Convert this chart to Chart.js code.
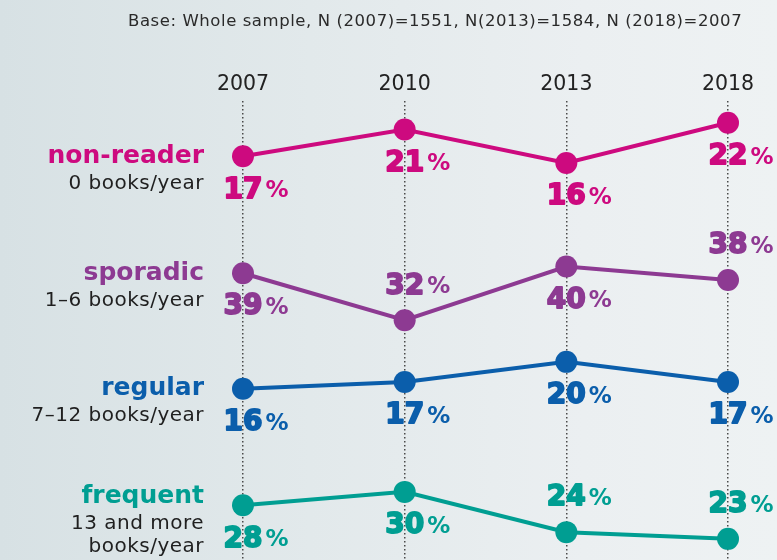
<!DOCTYPE html>
<html>
<head>
<meta charset="utf-8">
<script src="https://cdn.jsdelivr.net/npm/chart.js@4"></script>
<style>
  html, body { margin: 0; padding: 0; }
  body { width: 777px; height: 560px; overflow: hidden;
         background: linear-gradient(90deg, #d7e1e4 0%, #e2e9eb 40%, #ebeff1 75%, #eef2f3 100%); }
</style>
</head>
<body>
<canvas id="grafica" width="777" height="560"></canvas>
<script>
const years = ["2007", "2010", "2013", "2018"];
const nonReader = [17, 21, 16, 22];
const sporadic = [39, 32, 40, 38];
const regular = [16, 17, 20, 17];
const frequent = [28, 30, 24, 23];
const groupNames = ["non-reader", "sporadic", "regular", "frequent"];
const groupSubs = [["0 books/year"], ["1–6 books/year"], ["7–12 books/year"], ["13 and more", "books/year"]];
const baseNote = "Base: Whole sample, N (2007)=1551, N(2013)=1584, N (2018)=2007";

// cada serie tiene su propio eje y oculto para colocarla en su franja
const series = [
    { data: nonReader, color: "#cd0a7f", min: -43.1, max: 25.3, above: [false, false, false, false], nameY: 163 },
    { data: sporadic,  color: "#8d3a92", min: -3.7,  max: 64.7, above: [false, true, false, true],  nameY: 280 },
    { data: regular,   color: "#0b5eab", min: -9.5,  max: 58.9, above: [false, false, false, false], nameY: 395 },
    { data: frequent,  color: "#009e92", min: 19.85, max: 88.3, above: [false, false, true, true],   nameY: 503 }
];

const textos = {
    id: "textos",
    afterDatasetsDraw(chart) {
        const ctx = chart.ctx;
        const xs = chart.scales.x;
        ctx.save();
        // nota de base, ajustada al ancho del original
        ctx.font = '16.5px "DejaVu Sans"';
        ctx.letterSpacing = "0px";
        const wNota = ctx.measureText(baseNote).width;
        ctx.letterSpacing = ((614 - wNota) / baseNote.length).toFixed(2) + "px";
        ctx.fillStyle = "#2a2a2a";
        ctx.textAlign = "left";
        ctx.textBaseline = "alphabetic";
        ctx.fillText(baseNote, 128, 26);

        series.forEach((s, k) => {
            const ys = chart.scales["y" + k];
            ctx.textAlign = "right";
            ctx.textBaseline = "alphabetic";
            ctx.fillStyle = s.color;
            ctx.letterSpacing = "0px";
            ctx.font = 'bold 25px "DejaVu Sans"';
            ctx.fillText(groupNames[k], 204, s.nameY);
            ctx.fillStyle = "#1f1f1f";
            ctx.font = '20px "DejaVu Sans"';
            ctx.letterSpacing = "0.5px";
            groupSubs[k].forEach((t, j) => ctx.fillText(t, 204, s.nameY + 26 + j * 23));
            ctx.letterSpacing = "0px";

            s.data.forEach((v, i) => {
                const px = xs.getPixelForValue(i);
                const py = ys.getPixelForValue(v) + (s.above[i] ? -34 : 34);
                const num = String(v);
                ctx.fillStyle = s.color;
                ctx.strokeStyle = s.color;
                ctx.lineJoin = "round";
                ctx.font = 'bold 28px "DejaVu Sans"';
                const w = ctx.measureText(num).width;
                ctx.textAlign = "center";
                ctx.textBaseline = "middle";
                ctx.lineWidth = 1.8;
                ctx.strokeText(num, px, py);
                ctx.fillText(num, px, py);
                ctx.font = 'bold 23px "DejaVu Sans"';
                ctx.textAlign = "left";
                ctx.fillText("%", px + w / 2 + 3, py + 1);
            });
        });
        ctx.restore();
    }
};

const escalas = {
    x: {
        position: "top",
        offset: false,
        grid: { color: "#4a4a4a", lineWidth: 1.5, drawTicks: false },
        border: { display: false, dash: [1.5, 2.5] },
        ticks: { color: "#222", font: { family: "DejaVu Sans", size: 20.5 }, padding: 4, maxRotation: 0 }
    }
};
series.forEach((s, k) => {
    escalas["y" + k] = { type: "linear", display: false, min: s.min, max: s.max };
});

new Chart(document.getElementById("grafica"), {
    type: "line",
    data: {
        labels: years,
        datasets: series.map((s, k) => ({
            label: groupNames[k],
            data: s.data,
            yAxisID: "y" + k,
            borderColor: s.color,
            backgroundColor: s.color,
            borderWidth: 4,
            pointRadius: 11,
            pointHoverRadius: 11,
            pointBorderWidth: 0,
            tension: 0,
            clip: false
        }))
    },
    options: {
        responsive: false,
        animation: false,
        layout: { autoPadding: false, padding: { left: 243, right: 49, top: 68, bottom: 0 } },
        plugins: { legend: { display: false }, tooltip: { enabled: false } },
        scales: escalas
    },
    plugins: [textos]
});
</script>
</body>
</html>
